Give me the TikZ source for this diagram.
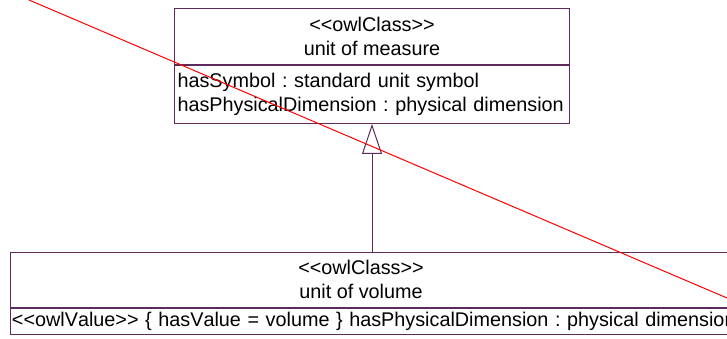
\documentclass[tikz,border=0pt]{standalone}
\usepackage{fontspec}
\setmainfont{Liberation Sans}[Kerning=Off]
\usetikzlibrary{arrows.meta,positioning}
\definecolor{umlline}{HTML}{5E2A5E}
\definecolor{strikered}{HTML}{FF0000}
\newcommand{\umlfont}{\fontsize{19.8}{23.5}\selectfont\frenchspacing}
\newcommand{\stereo}[1]{<{}<#1>{}>}
\tikzset{
  head/.style={draw=umlline,line width=1pt,fill=white,inner sep=0pt,anchor=north west,align=center,font=\umlfont},
  body/.style={head,align=left,inner xsep=3pt,inner ysep=8pt},
  plain/.style={align=center,font=\umlfont,text=black},
  gen/.style={-{Triangle[open,length=30pt,width=20pt,fill=white]},draw=umlline,line width=1pt},
  strike/.style={draw=strikered,line width=1pt},
}

\begin{document}
\begin{tikzpicture}[x=1pt,y=-1pt]
  \useasboundingbox (0,0) rectangle (727,339);
  \clip (0,0) rectangle (727,339);
  % superclass
  \node[head,minimum width=395,minimum height=56] (measurehead) at (174,8) {\stereo{owlClass}\\unit of measure};
  \node[body,text width=389pt] (measurebody) at (measurehead.south west) {\mbox{hasSymbol : standard unit symbol}\\\mbox{hasPhysicalDimension : physical dimension}};
  % subclass (runs past the right and bottom edge)
  \node[head,minimum width=790,minimum height=55] (volumehead) at (10,252) {};
  \node[plain] (volumename) at (361,279.5) {\stereo{owlClass}\\unit of volume};
  \node[body,text width=784pt,inner xsep=1.5pt,inner ysep=4pt] (volumebody) at (volumehead.south west) {\mbox{\stereo{owlValue} \{ hasValue = volume \} hasPhysicalDimension : physical dimension}};
  \draw[gen] (measurebody.south |- volumehead.north) -- (measurebody.south);
  % struck through
  \coordinate (strikestart) at (29,0);
  \coordinate (strikeend) at (727,298);
  \draw[strike] (strikestart) -- (strikeend);
\end{tikzpicture}
\end{document}
